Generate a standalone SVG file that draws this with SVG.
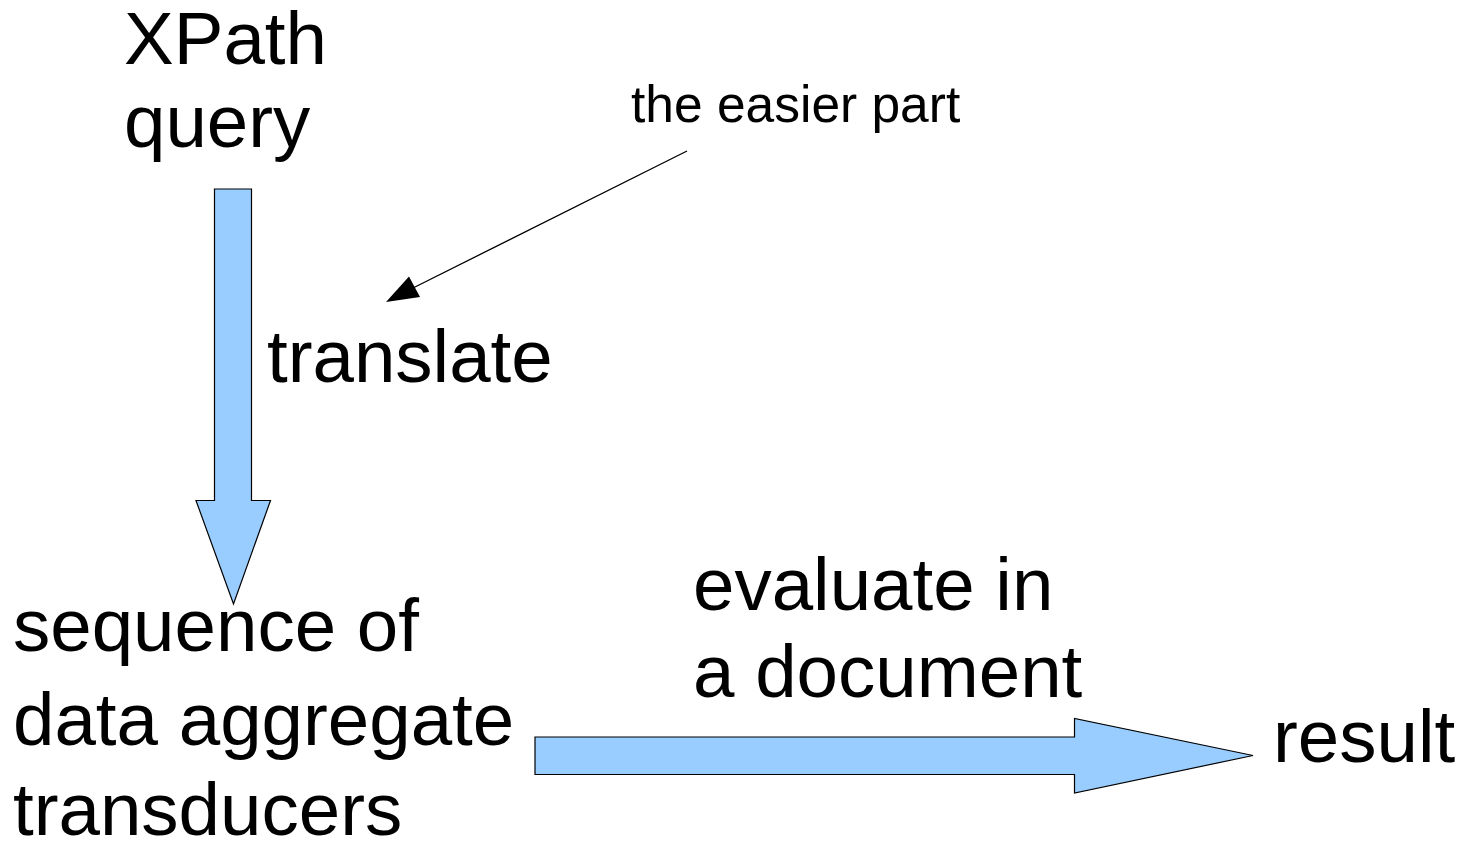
<svg xmlns="http://www.w3.org/2000/svg" width="1462" height="844" viewBox="0 0 1462 844">
<style>
.t{font-family:"Liberation Sans",Arial,sans-serif;fill:#000}
.big{font-size:74.5px}
.small{font-size:51.5px}
.blk{fill:#99ccff;stroke:#000;stroke-width:1.2;stroke-linejoin:miter}
</style>
<rect width="1462" height="844" fill="#fff"/>
<g id="xpath-query">
<text class="t big" x="124" y="64">XPath</text>
<text class="t big" x="124" y="147">query</text>
</g>
<g id="sequence">
<text class="t big" x="13" y="651">sequence of</text>
<text class="t big" x="13" y="745">data aggregate</text>
<text class="t big" x="13" y="835">transducers</text>
</g>
<g id="result">
<text class="t big" x="1273" y="762">result</text>
</g>
<g id="note">
<text class="t small" x="631" y="122">the easier part</text>
</g>
<g id="connectors">
<g id="translate-arrow">
<polygon class="blk" points="214.5,189 251.5,189 251.5,500.5 270.5,500.5 233.5,604 196,500.5 214.5,500.5"/>
<text class="t big" x="267" y="382">translate</text>
</g>
<g id="evaluate-arrow">
<polygon class="blk" points="535,737 1074.5,737 1074.5,718.5 1253,755.5 1074.5,793 1074.5,774.5 535,774.5"/>
<text class="t big" x="693" y="610">evaluate in</text>
<text class="t big" x="693" y="697">a document</text>
</g>
<g id="note-arrow">
<line x1="687" y1="151" x2="412" y2="288.5" stroke="#000" stroke-width="1.3"/>
<polygon points="386,302 409,276.5 420,297" fill="#000"/>
</g>
</g>
</svg>
